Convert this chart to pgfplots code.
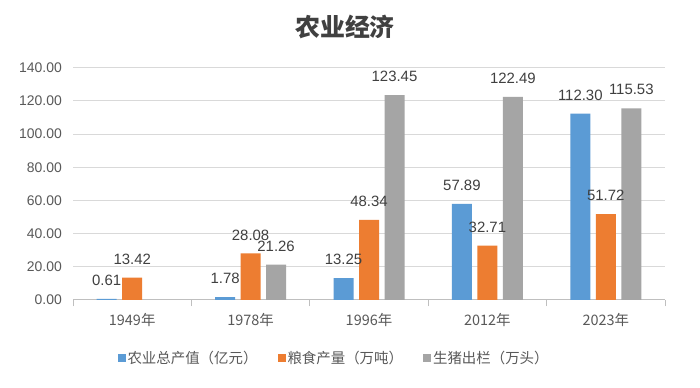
\documentclass[border=0pt]{standalone}
\usepackage{fontspec}
\usepackage{pgfplots}
\pgfplotsset{compat=1.18}
\setmainfont{Liberation Sans}
\newfontfamily\cjk{Noto Sans CJK SC}
\definecolor{cBlue}{HTML}{5B9BD5}
\definecolor{cOrange}{HTML}{ED7D31}
\definecolor{cGray}{HTML}{A5A5A5}
\definecolor{tickGray}{HTML}{595959}
\definecolor{labGray}{HTML}{404040}
\definecolor{gridGray}{HTML}{D9D9D9}
\definecolor{axGray}{HTML}{BFBFBF}
\begin{document}
\begin{tikzpicture}
\useasboundingbox (0,0) rectangle (700bp,388bp);
\fill[white] (0,0) rectangle (700bp,388bp);
\begin{axis}[
  at={(73bp,88bp)}, anchor=south west,
  scale only axis, width=592bp, height=232.3bp,
  xmin=-0.5, xmax=4.5, ymin=0, ymax=140,
  ybar=5.5bp, bar width=20bp,
  axis x line*=bottom, axis y line*=left,
  x axis line style={draw=axGray, line width=1bp, -},
  y axis line style={draw=none},
  ytick={0,20,...,140},
  ymajorgrids, major grid style={draw=gridGray, line width=1bp},
  yticklabel style={/pgf/number format/assume math mode=true,
    /pgf/number format/fixed, /pgf/number format/fixed zerofill,
    /pgf/number format/precision=2,
    font=\fontsize{14}{14}\selectfont, text=tickGray, anchor=east, inner sep=0pt, xshift=-11bp},
  ytick style={draw=none},
  major tick length=0pt,
  xtick={0,1,2,3,4},
  xticklabels={1949年,1978年,1996年,2012年,2023年},
  xticklabel style={font=\cjk\fontsize{14.5}{14.5}\selectfont, text=tickGray, anchor=base, inner sep=0pt, yshift=-26bp},
  x tick style={draw=none},
  minor xtick={-0.5,0.5,...,4.5},
  minor x tick style={draw=axGray, line width=1bp},
  minor tick length=6bp, tick align=outside,
  point meta=explicit symbolic,
  nodes near coords={\pgfplotspointmeta},
  every node near coord/.append style={font=\fontsize{15}{15}\selectfont, text=labGray, anchor=south, inner sep=0pt, yshift=13bp},
  legend columns=3,
  legend image code/.code={\fill[#1, draw=none] (0bp,-4bp) rectangle (8bp,4bp);},
  legend style={at={(0.441,-0.25)}, anchor=center, draw=none, fill=none,
    font=\cjk\fontsize{14.5}{14.5}\selectfont, text=tickGray,
    /tikz/every even column/.append style={column sep=18bp}},
]
\addplot[fill=cBlue, draw=none] coordinates {(0,0.61) [0.61] (1,1.78) [1.78] (2,13.25) [13.25] (3,57.89) [57.89] (4,112.30) [112.30]};
\addplot[fill=cOrange, draw=none] coordinates {(0,13.42) [13.42] (1,28.08) [28.08] (2,48.34) [48.34] (3,32.71) [32.71] (4,51.72) [51.72]};
\addplot[fill=cGray, draw=none] coordinates {(1,21.26) [21.26] (2,123.45) [123.45] (3,122.49) [122.49] (4,115.53) [115.53]};
\legend{农业总产值（亿元）,粮食产量（万吨）,生猪出栏（万头）}
\end{axis}
\node[font=\cjk\bfseries\fontsize{25}{25}\selectfont, text=labGray] at (345bp,361bp) {农业经济};
\end{tikzpicture}
\end{document}
